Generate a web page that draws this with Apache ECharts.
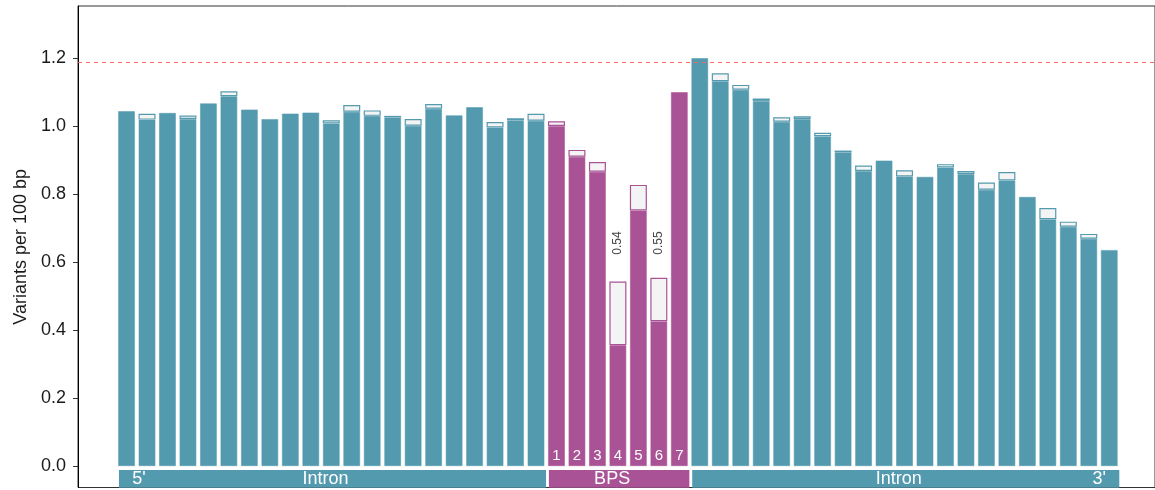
<!DOCTYPE html>
<html><head><meta charset="utf-8">
<script src="https://cdn.jsdelivr.net/npm/echarts@6/dist/echarts.min.js"></script>
<style>html,body{margin:0;padding:0;background:#fff}#c{width:1155px;height:490px}</style>
</head><body><div id="c"></div>
<script>
// ---------- data ----------
const categories = [
  'L1','L2','L3','L4','L5','L6','L7','L8','L9','L10','L11','L12','L13','L14','L15','L16','L17','L18','L19','L20','L21',
  '1','2','3','4','5','6','7',
  'R1','R2','R3','R4','R5','R6','R7','R8','R9','R10','R11','R12','R13','R14','R15','R16','R17','R18','R19','R20','R21'
];
// solid part of each bar
const lowerValues = [
  1.044, 1.019, 1.039, 1.021, 1.067, 1.088, 1.049, 1.021, 1.037, 1.040, 1.008, 1.042, 1.030, 1.025, 1.001, 1.051, 1.032, 1.056, 0.996, 1.017, 1.016,
  1.000, 0.910, 0.866, 0.356, 0.752, 0.426, 1.100,
  1.200, 1.132, 1.107, 1.074, 1.013, 1.021, 0.970, 0.922, 0.868, 0.899, 0.852, 0.851, 0.878, 0.859, 0.813, 0.840, 0.792, 0.726, 0.704, 0.669, 0.636
];
// top of the outlined part of each bar
const upperValues = [
  1.044, 1.036, 1.039, 1.031, 1.067, 1.102, 1.049, 1.021, 1.037, 1.040, 1.017, 1.062, 1.046, 1.030, 1.021, 1.065, 1.032, 1.056, 1.012, 1.023, 1.036,
  1.014, 0.930, 0.894, 0.543, 0.827, 0.554, 1.100,
  1.200, 1.155, 1.121, 1.081, 1.026, 1.029, 0.980, 0.928, 0.884, 0.899, 0.870, 0.851, 0.888, 0.868, 0.834, 0.865, 0.792, 0.759, 0.719, 0.683, 0.636
];
const segments = [
  {name: 'Intron', from: 0,  to: 20, type: 'intron', left: "5'", right: ''},
  {name: 'BPS',    from: 21, to: 27, type: 'bps',    left: '',   right: ''},
  {name: 'Intron', from: 28, to: 48, type: 'intron', left: '',   right: "3'"}
];
const annotations = [[24, '0.54'], [26, '0.55']];
const ANNOT_Y = 0.656;
const THRESHOLD = 1.187;
const yTicks = [0, 0.2, 0.4, 0.6, 0.8, 1.0, 1.2];
const Y_MIN = -0.0626, Y_MAX = 1.353;
const BAND_TOP = -0.011;

// ---------- style ----------
const COLORS = {intron: '#549aaf', bps: '#a95396'};
const EDGE = {intron: 'rgba(84,154,175,0.55)', bps: 'rgba(169,83,150,0.55)'};
const FONT = '"Liberation Sans", Arial, Helvetica, sans-serif';

function typeOf(i) {
  for (const s of segments) if (i >= s.from && i <= s.to) return s.type;
  return 'intron';
}

const baseData = lowerValues.map((v, i) => ({
  value: v,
  itemStyle: {color: COLORS[typeOf(i)], borderColor: EDGE[typeOf(i)], borderWidth: 1}
}));
const topData = upperValues.map((u, i) => {
  const d = u - lowerValues[i];
  if (d < 0.0005) return {value: '-'};
  return {value: d, itemStyle: {color: '#f4f4f4', borderColor: COLORS[typeOf(i)], borderWidth: 1.2}};
});

const chart = echarts.init(document.getElementById('c'), null, {renderer: 'canvas'});
chart.setOption({
  animation: false,
  grid: [
    {left: 78, top: 6, right: -6, height: 481.5, show: true, borderColor: '#333', borderWidth: 1, containLabel: false},
    {left: 116.3, top: 6, width: 1003.2, height: 481.5, containLabel: false}
  ],
  xAxis: [
    {type: 'value', gridIndex: 0, min: 0, max: 1, show: false},
    {type: 'category', gridIndex: 1, data: categories, show: false, boundaryGap: true}
  ],
  yAxis: [
    {
      type: 'value', gridIndex: 0, min: Y_MIN, max: Y_MAX,
      name: 'Variants per 100 bp', nameLocation: 'middle', nameGap: 46,
      nameTextStyle: {fontFamily: FONT, fontSize: 18, color: '#1a1a1a'},
      axisLine: {show: true, lineStyle: {color: '#000', width: 1}},
      axisTick: {show: true, length: 5, customValues: yTicks, lineStyle: {color: '#333'}},
      axisLabel: {show: true, customValues: yTicks, margin: 12, fontFamily: FONT, fontSize: 18, color: '#1a1a1a',
                  formatter: v => Number(v).toFixed(1)},
      splitLine: {show: false}
    },
    {type: 'value', gridIndex: 1, min: Y_MIN, max: Y_MAX, show: false, splitLine: {show: false}}
  ],
  series: [
    {
      type: 'line', xAxisIndex: 0, yAxisIndex: 0, data: [[0, THRESHOLD], [1, THRESHOLD]],
      symbol: 'none', lineStyle: {color: '#f86868', width: 1, type: [4, 4]}, z: 5, silent: true
    },
    {
      type: 'bar', xAxisIndex: 1, yAxisIndex: 1, stack: 'v', barWidth: 17, data: baseData,
      label: {
        show: true, position: 'insideBottom', distance: 3, color: '#fff', fontFamily: FONT, fontSize: 15,
        formatter: p => typeOf(p.dataIndex) === 'bps' ? categories[p.dataIndex] : ''
      }
    },
    {type: 'bar', xAxisIndex: 1, yAxisIndex: 1, stack: 'v', barWidth: 17, data: topData},
    {
      type: 'scatter', xAxisIndex: 1, yAxisIndex: 1, symbolSize: 0,
      data: annotations.map(a => ({value: [categories[a[0]], ANNOT_Y], text: a[1]})),
      label: {show: true, position: 'inside', rotate: 90, color: '#111', fontFamily: FONT, fontSize: 12,
              formatter: p => p.data.text}
    },
    {
      type: 'custom', xAxisIndex: 1, yAxisIndex: 1, clip: false,
      data: segments.map(s => [s.from, s.to]),
      encode: {x: [0, 1]},
      renderItem: function (params, api) {
        const s = segments[params.dataIndex];
        const pitch = api.size([1, 0])[0];
        const a = api.coord([s.from, BAND_TOP]);
        const b = api.coord([s.to, Y_MIN]);
        const x0 = a[0] - pitch * 0.37, x1 = b[0] + pitch * 0.49;
        const y0 = a[1], y1 = b[1] + 0.3;
        const cy = (y0 + y1) / 2;
        const font = '18px ' + FONT;
        const children = [
          {type: 'rect', shape: {x: x0, y: y0, width: x1 - x0, height: y1 - y0}, style: {fill: COLORS[s.type]}},
          {type: 'text', style: {text: s.name, x: (x0 + x1) / 2 - 7, y: cy, align: 'center', verticalAlign: 'middle', fill: '#fff', font: font}}
        ];
        if (s.left) children.push({type: 'text', style: {text: s.left, x: x0 + 20, y: cy, align: 'center', verticalAlign: 'middle', fill: '#fff', font: font}});
        if (s.right) children.push({type: 'text', style: {text: s.right, x: x1 - 20, y: cy, align: 'center', verticalAlign: 'middle', fill: '#fff', font: font}});
        return {type: 'group', children: children};
      }
    }
  ]
});
</script></body></html>
